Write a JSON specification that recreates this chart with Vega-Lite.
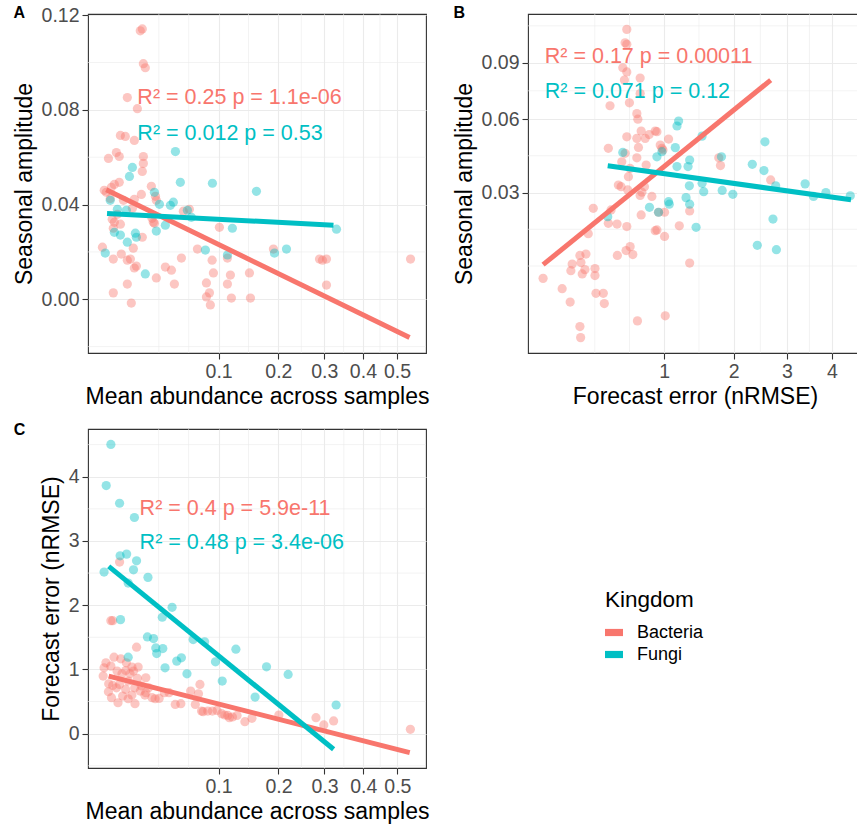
{
"$schema": "https://vega.github.io/schema/vega-lite/v6.json",
"padding": {"left": 12, "top": 4, "right": 0, "bottom": 0},
"background": "white",
"config": {
  "font": "Liberation Sans",
  "view": {"stroke": "#333333", "strokeWidth": 1.1},
  "axis": {"domain": false, "grid": true, "gridColor": "#EBEBEB", "gridWidth": 1.1, "tickColor": "#333333", "tickSize": 6, "tickWidth": 1.1, "labelColor": "#4D4D4D", "labelFontSize": 19.5, "labelFont": "Liberation Sans", "titleFont": "Liberation Sans", "titleFontSize": 23, "titleFontWeight": "normal", "titleColor": "#000000", "labelPadding": 3, "titlePadding": 4.5, "labelFlush": false, "labelOverlap": false},
  "title": {"font": "Liberation Sans", "fontSize": 16, "fontWeight": "bold", "anchor": "start", "frame": "bounds", "color": "#000000", "offset": 0}
},
"datasets": {
  "A_pts": [
{"x":0.0209,"y":0.1134,"Kingdom":"Bacteria"},{"x":0.0222,"y":0.1142,"Kingdom":"Bacteria"},{"x":0.0229,"y":0.0995,"Kingdom":"Bacteria"},{"x":0.0242,"y":0.0978,"Kingdom":"Bacteria"},{"x":0.0135,"y":0.0852,"Kingdom":"Bacteria"},{"x":0.0191,"y":0.0805,"Kingdom":"Bacteria"},{"x":0.0102,"y":0.0692,"Kingdom":"Bacteria"},{"x":0.0125,"y":0.0688,"Kingdom":"Bacteria"},{"x":0.0173,"y":0.0671,"Kingdom":"Bacteria"},{"x":0.0056,"y":0.0595,"Kingdom":"Bacteria"},{"x":0.0085,"y":0.062,"Kingdom":"Bacteria"},{"x":0.0097,"y":0.0603,"Kingdom":"Bacteria"},{"x":0.0229,"y":0.0603,"Kingdom":"Bacteria"},{"x":0.0229,"y":0.0574,"Kingdom":"Bacteria"},{"x":0.0222,"y":0.054,"Kingdom":"Bacteria"},{"x":0.0285,"y":0.0477,"Kingdom":"Bacteria"},{"x":0.0077,"y":0.0485,"Kingdom":"Bacteria"},{"x":0.0097,"y":0.0494,"Kingdom":"Bacteria"},{"x":0.0066,"y":0.0473,"Kingdom":"Bacteria"},{"x":0.0049,"y":0.0452,"Kingdom":"Bacteria"},{"x":0.0216,"y":0.0443,"Kingdom":"Bacteria"},{"x":0.0323,"y":0.0418,"Kingdom":"Bacteria"},{"x":0.0316,"y":0.0435,"Kingdom":"Bacteria"},{"x":0.0173,"y":0.0422,"Kingdom":"Bacteria"},{"x":0.0116,"y":0.0418,"Kingdom":"Bacteria"},{"x":0.0162,"y":0.0384,"Kingdom":"Bacteria"},{"x":0.0069,"y":0.0338,"Kingdom":"Bacteria"},{"x":0.0077,"y":0.0325,"Kingdom":"Bacteria"},{"x":0.0073,"y":0.03,"Kingdom":"Bacteria"},{"x":0.0222,"y":0.0262,"Kingdom":"Bacteria"},{"x":0.03,"y":0.0325,"Kingdom":"Bacteria"},{"x":0.0571,"y":0.0372,"Kingdom":"Bacteria"},{"x":0.1011,"y":0.0304,"Kingdom":"Bacteria"},{"x":0.0038,"y":0.022,"Kingdom":"Bacteria"},{"x":0.0073,"y":0.017,"Kingdom":"Bacteria"},{"x":0.0106,"y":0.0191,"Kingdom":"Bacteria"},{"x":0.0135,"y":0.0165,"Kingdom":"Bacteria"},{"x":0.0151,"y":0.017,"Kingdom":"Bacteria"},{"x":0.0167,"y":0.0216,"Kingdom":"Bacteria"},{"x":0.0173,"y":0.0132,"Kingdom":"Bacteria"},{"x":0.0185,"y":0.014,"Kingdom":"Bacteria"},{"x":0.0398,"y":0.0136,"Kingdom":"Bacteria"},{"x":0.0453,"y":0.0123,"Kingdom":"Bacteria"},{"x":0.0323,"y":0.009,"Kingdom":"Bacteria"},{"x":0.0481,"y":0.0064,"Kingdom":"Bacteria"},{"x":0.0135,"y":0.0064,"Kingdom":"Bacteria"},{"x":0.0073,"y":0.0027,"Kingdom":"Bacteria"},{"x":0.0156,"y":-0.0016,"Kingdom":"Bacteria"},{"x":0.0551,"y":0.0174,"Kingdom":"Bacteria"},{"x":0.0728,"y":0.0212,"Kingdom":"Bacteria"},{"x":0.0838,"y":0.0069,"Kingdom":"Bacteria"},{"x":0.0877,"y":0.0027,"Kingdom":"Bacteria"},{"x":0.0838,"y":0.001,"Kingdom":"Bacteria"},{"x":0.0889,"y":-0.0024,"Kingdom":"Bacteria"},{"x":0.0929,"y":0.0111,"Kingdom":"Bacteria"},{"x":0.1126,"y":0.0064,"Kingdom":"Bacteria"},{"x":0.117,"y":0.0102,"Kingdom":"Bacteria"},{"x":0.1185,"y":0.0005,"Kingdom":"Bacteria"},{"x":0.0912,"y":0.0165,"Kingdom":"Bacteria"},{"x":0.1126,"y":0.0174,"Kingdom":"Bacteria"},{"x":0.1473,"y":0.0111,"Kingdom":"Bacteria"},{"x":0.149,"y":0.0005,"Kingdom":"Bacteria"},{"x":0.1904,"y":0.0212,"Kingdom":"Bacteria"},{"x":0.2887,"y":0.017,"Kingdom":"Bacteria"},{"x":0.2958,"y":0.0165,"Kingdom":"Bacteria"},{"x":0.3054,"y":0.017,"Kingdom":"Bacteria"},{"x":0.3054,"y":0.006,"Kingdom":"Bacteria"},{"x":0.5429,"y":0.017,"Kingdom":"Bacteria"},{"x":0.0043,"y":0.046,"Kingdom":"Bacteria"},{"x":0.0062,"y":0.0426,"Kingdom":"Bacteria"},{"x":0.0089,"y":0.0359,"Kingdom":"Bacteria"},{"x":0.0102,"y":0.0317,"Kingdom":"Bacteria"},{"x":0.029,"y":0.0342,"Kingdom":"Bacteria"},{"x":0.0308,"y":0.0321,"Kingdom":"Bacteria"},{"x":0.0636,"y":0.038,"Kingdom":"Bacteria"},
{"x":0.0491,"y":0.0624,"Kingdom":"Fungi"},{"x":0.0162,"y":0.0557,"Kingdom":"Fungi"},{"x":0.0146,"y":0.0519,"Kingdom":"Fungi"},{"x":0.054,"y":0.0494,"Kingdom":"Fungi"},{"x":0.0916,"y":0.049,"Kingdom":"Fungi"},{"x":0.1593,"y":0.0456,"Kingdom":"Fungi"},{"x":0.0308,"y":0.0452,"Kingdom":"Fungi"},{"x":0.0348,"y":0.0401,"Kingdom":"Fungi"},{"x":0.0471,"y":0.041,"Kingdom":"Fungi"},{"x":0.0443,"y":0.0397,"Kingdom":"Fungi"},{"x":0.0062,"y":0.0418,"Kingdom":"Fungi"},{"x":0.0089,"y":0.038,"Kingdom":"Fungi"},{"x":0.013,"y":0.0376,"Kingdom":"Fungi"},{"x":0.0614,"y":0.0376,"Kingdom":"Fungi"},{"x":0.0658,"y":0.0346,"Kingdom":"Fungi"},{"x":0.0398,"y":0.0313,"Kingdom":"Fungi"},{"x":0.0323,"y":0.0288,"Kingdom":"Fungi"},{"x":0.12,"y":0.03,"Kingdom":"Fungi"},{"x":0.0077,"y":0.0283,"Kingdom":"Fungi"},{"x":0.0102,"y":0.0271,"Kingdom":"Fungi"},{"x":0.0179,"y":0.0279,"Kingdom":"Fungi"},{"x":0.0185,"y":0.0262,"Kingdom":"Fungi"},{"x":0.0135,"y":0.0241,"Kingdom":"Fungi"},{"x":0.0046,"y":0.0195,"Kingdom":"Fungi"},{"x":0.0242,"y":0.0107,"Kingdom":"Fungi"},{"x":0.0825,"y":0.0208,"Kingdom":"Fungi"},{"x":0.1126,"y":0.0187,"Kingdom":"Fungi"},{"x":0.1924,"y":0.0195,"Kingdom":"Fungi"},{"x":0.2162,"y":0.0212,"Kingdom":"Fungi"},{"x":0.3301,"y":0.0296,"Kingdom":"Fungi"}
  ],
  "A_lines": [{"x":0.0049,"y":0.0463,"Kingdom":"Bacteria"},{"x":0.5397,"y":-0.0162,"Kingdom":"Bacteria"},{"x":0.00514,"y":0.0362,"Kingdom":"Fungi"},{"x":0.3226,"y":0.0313,"Kingdom":"Fungi"}],
  "A_text": [{"x":0.0191,"y":0.0849,"label":"R² = 0.25  p = 1.1e-06","Kingdom":"Bacteria"},{"x":0.0191,"y":0.0696,"label":"R² = 0.012  p = 0.53","Kingdom":"Fungi"}],
  "gA_x": [{"x":0.03432},{"x":0.06287},{"x":0.14571},{"x":0.24747},{"x":0.34821},{"x":0.44861}],
  "gA_y": [{"y":-0.02},{"y":0.02},{"y":0.06},{"y":0.10}],
  "B_pts": [
{"x":0.6032,"y":0.1105,"Kingdom":"Bacteria"},{"x":0.5875,"y":0.102,"Kingdom":"Bacteria"},{"x":0.6032,"y":0.101,"Kingdom":"Bacteria"},{"x":0.5666,"y":0.087,"Kingdom":"Bacteria"},{"x":0.6032,"y":0.0846,"Kingdom":"Bacteria"},{"x":0.7332,"y":0.0812,"Kingdom":"Bacteria"},{"x":0.5811,"y":0.0801,"Kingdom":"Bacteria"},{"x":0.4578,"y":0.0665,"Kingdom":"Bacteria"},{"x":0.6276,"y":0.068,"Kingdom":"Bacteria"},{"x":0.7332,"y":0.0728,"Kingdom":"Bacteria"},{"x":0.6998,"y":0.0626,"Kingdom":"Bacteria"},{"x":0.7098,"y":0.0599,"Kingdom":"Bacteria"},{"x":0.7435,"y":0.0544,"Kingdom":"Bacteria"},{"x":0.8951,"y":0.0544,"Kingdom":"Bacteria"},{"x":0.8284,"y":0.0528,"Kingdom":"Bacteria"},{"x":0.7854,"y":0.0511,"Kingdom":"Bacteria"},{"x":0.6998,"y":0.0511,"Kingdom":"Bacteria"},{"x":0.6032,"y":0.0518,"Kingdom":"Bacteria"},{"x":0.7159,"y":0.0472,"Kingdom":"Bacteria"},{"x":0.4442,"y":0.0468,"Kingdom":"Bacteria"},{"x":0.5875,"y":0.0447,"Kingdom":"Bacteria"},{"x":0.5575,"y":0.0413,"Kingdom":"Bacteria"},{"x":0.6998,"y":0.0429,"Kingdom":"Bacteria"},{"x":0.6343,"y":0.0387,"Kingdom":"Bacteria"},{"x":0.6182,"y":0.0356,"Kingdom":"Bacteria"},{"x":0.796,"y":0.04,"Kingdom":"Bacteria"},{"x":0.5276,"y":0.0326,"Kingdom":"Bacteria"},{"x":0.5513,"y":0.032,"Kingdom":"Bacteria"},{"x":0.6125,"y":0.0309,"Kingdom":"Bacteria"},{"x":0.7508,"y":0.0301,"Kingdom":"Bacteria"},{"x":0.778,"y":0.032,"Kingdom":"Bacteria"},{"x":0.858,"y":0.0287,"Kingdom":"Bacteria"},{"x":0.9845,"y":0.0461,"Kingdom":"Bacteria"},{"x":0.3325,"y":0.0249,"Kingdom":"Bacteria"},{"x":0.466,"y":0.0244,"Kingdom":"Bacteria"},{"x":0.4442,"y":0.0205,"Kingdom":"Bacteria"},{"x":0.5163,"y":0.0203,"Kingdom":"Bacteria"},{"x":0.6032,"y":0.0196,"Kingdom":"Bacteria"},{"x":0.7332,"y":0.029,"Kingdom":"Bacteria"},{"x":0.7435,"y":0.0229,"Kingdom":"Bacteria"},{"x":0.8951,"y":0.0185,"Kingdom":"Bacteria"},{"x":0.2989,"y":0.0177,"Kingdom":"Bacteria"},{"x":0.6343,"y":0.0145,"Kingdom":"Bacteria"},{"x":0.5967,"y":0.0136,"Kingdom":"Bacteria"},{"x":0.6603,"y":0.0127,"Kingdom":"Bacteria"},{"x":0.5189,"y":0.0125,"Kingdom":"Bacteria"},{"x":0.284,"y":0.0128,"Kingdom":"Bacteria"},{"x":0.247,"y":0.0125,"Kingdom":"Bacteria"},{"x":0.253,"y":0.011,"Kingdom":"Bacteria"},{"x":0.2033,"y":0.0107,"Kingdom":"Bacteria"},{"x":0.2777,"y":0.0096,"Kingdom":"Bacteria"},{"x":0.3444,"y":0.0098,"Kingdom":"Bacteria"},{"x":0.1963,"y":0.0094,"Kingdom":"Bacteria"},{"x":0.2609,"y":0.0088,"Kingdom":"Bacteria"},{"x":0.3444,"y":0.0085,"Kingdom":"Bacteria"},{"x":0.0769,"y":0.008,"Kingdom":"Bacteria"},{"x":0.1529,"y":0.0063,"Kingdom":"Bacteria"},{"x":0.3514,"y":0.0056,"Kingdom":"Bacteria"},{"x":0.4052,"y":0.0056,"Kingdom":"Bacteria"},{"x":0.1926,"y":0.0044,"Kingdom":"Bacteria"},{"x":0.4128,"y":0.0042,"Kingdom":"Bacteria"},{"x":0.247,"y":0.0018,"Kingdom":"Bacteria"},{"x":0.2512,"y":0.001,"Kingdom":"Bacteria"},{"x":0.7058,"y":0.0023,"Kingdom":"Bacteria"},{"x":1.012,"y":0.0028,"Kingdom":"Bacteria"},{"x":1.0521,"y":0.0508,"Kingdom":"Bacteria"},{"x":0.9527,"y":0.0482,"Kingdom":"Bacteria"},{"x":0.9727,"y":0.0468,"Kingdom":"Bacteria"},{"x":1.756,"y":0.0429,"Kingdom":"Bacteria"},{"x":1.783,"y":0.0398,"Kingdom":"Bacteria"},{"x":2.6723,"y":0.0344,"Kingdom":"Bacteria"},{"x":0.9145,"y":0.0541,"Kingdom":"Bacteria"},{"x":1.0036,"y":0.0237,"Kingdom":"Bacteria"},{"x":1.326,"y":0.0241,"Kingdom":"Bacteria"},{"x":0.9145,"y":0.0187,"Kingdom":"Bacteria"},{"x":1.0036,"y":0.017,"Kingdom":"Bacteria"},{"x":1.1877,"y":0.0198,"Kingdom":"Bacteria"},{"x":1.326,"y":0.0109,"Kingdom":"Bacteria"},{"x":0.9329,"y":0.0237,"Kingdom":"Bacteria"},
{"x":1.1786,"y":0.059,"Kingdom":"Fungi"},{"x":1.1578,"y":0.0567,"Kingdom":"Fungi"},{"x":1.5024,"y":0.0521,"Kingdom":"Fungi"},{"x":2.5619,"y":0.0496,"Kingdom":"Fungi"},{"x":1.1361,"y":0.0471,"Kingdom":"Fungi"},{"x":0.9727,"y":0.0454,"Kingdom":"Fungi"},{"x":1.326,"y":0.042,"Kingdom":"Fungi"},{"x":1.799,"y":0.0433,"Kingdom":"Fungi"},{"x":2.326,"y":0.0403,"Kingdom":"Fungi"},{"x":2.5427,"y":0.0379,"Kingdom":"Fungi"},{"x":1.1578,"y":0.0394,"Kingdom":"Fungi"},{"x":1.304,"y":0.0394,"Kingdom":"Fungi"},{"x":1.3218,"y":0.0323,"Kingdom":"Fungi"},{"x":1.5024,"y":0.0332,"Kingdom":"Fungi"},{"x":1.526,"y":0.0303,"Kingdom":"Fungi"},{"x":1.2769,"y":0.0283,"Kingdom":"Fungi"},{"x":1.8104,"y":0.0307,"Kingdom":"Fungi"},{"x":1.9853,"y":0.0294,"Kingdom":"Fungi"},{"x":2.7712,"y":0.0323,"Kingdom":"Fungi"},{"x":3.386,"y":0.033,"Kingdom":"Fungi"},{"x":3.8573,"y":0.03,"Kingdom":"Fungi"},{"x":4.4504,"y":0.0289,"Kingdom":"Fungi"},{"x":1.0521,"y":0.027,"Kingdom":"Fungi"},{"x":1.0608,"y":0.0262,"Kingdom":"Fungi"},{"x":1.326,"y":0.0262,"Kingdom":"Fungi"},{"x":1.4157,"y":0.0194,"Kingdom":"Fungi"},{"x":2.7176,"y":0.0217,"Kingdom":"Fungi"},{"x":2.4183,"y":0.0148,"Kingdom":"Fungi"},{"x":2.7852,"y":0.0138,"Kingdom":"Fungi"},{"x":3.5736,"y":0.0287,"Kingdom":"Fungi"},{"x":0.5666,"y":0.0451,"Kingdom":"Fungi"},{"x":0.9145,"y":0.0433,"Kingdom":"Fungi"},{"x":0.4394,"y":0.0224,"Kingdom":"Fungi"},{"x":0.8317,"y":0.0252,"Kingdom":"Fungi"},{"x":0.9329,"y":0.0237,"Kingdom":"Fungi"}
  ],
  "B_lines": [{"x":0.0769,"y":0.01057,"Kingdom":"Bacteria"},{"x":2.6723,"y":0.08,"Kingdom":"Bacteria"},{"x":0.4394,"y":0.0397,"Kingdom":"Fungi"},{"x":4.468,"y":0.0276,"Kingdom":"Fungi"}],
  "B_text": [{"x":0.0826,"y":0.0933,"label":"R² = 0.17  p = 0.00011","Kingdom":"Bacteria"},{"x":0.0826,"y":0.0737,"label":"R² = 0.071  p = 0.12","Kingdom":"Fungi"}],
  "gB_x": [{"x":0.34315},{"x":0.62868},{"x":1.45711},{"x":2.47474},{"x":3.48206}],
  "gB_y": [{"y":0.0103},{"y":0.01886},{"y":0.04371},{"y":0.07424},{"y":0.11281}],
  "C_pts": [
{"x":0.00997,"y":2.671,"Kingdom":"Bacteria"},{"x":0.00653,"y":1.759,"Kingdom":"Bacteria"},{"x":0.0072,"y":1.759,"Kingdom":"Bacteria"},{"x":0.01876,"y":1.346,"Kingdom":"Bacteria"},{"x":0.00435,"y":1.025,"Kingdom":"Bacteria"},{"x":0.00653,"y":1.051,"Kingdom":"Bacteria"},{"x":0.00769,"y":1.191,"Kingdom":"Bacteria"},{"x":0.00409,"y":0.896,"Kingdom":"Bacteria"},{"x":0.00579,"y":0.776,"Kingdom":"Bacteria"},{"x":0.00891,"y":0.974,"Kingdom":"Bacteria"},{"x":0.01105,"y":0.932,"Kingdom":"Bacteria"},{"x":0.01282,"y":0.983,"Kingdom":"Bacteria"},{"x":0.01697,"y":0.974,"Kingdom":"Bacteria"},{"x":0.01972,"y":1.036,"Kingdom":"Bacteria"},{"x":0.01608,"y":1.036,"Kingdom":"Bacteria"},{"x":0.01932,"y":0.859,"Kingdom":"Bacteria"},{"x":0.01409,"y":0.818,"Kingdom":"Bacteria"},{"x":0.00997,"y":0.766,"Kingdom":"Bacteria"},{"x":0.00864,"y":0.714,"Kingdom":"Bacteria"},{"x":0.01282,"y":0.688,"Kingdom":"Bacteria"},{"x":0.01135,"y":0.585,"Kingdom":"Bacteria"},{"x":0.01608,"y":0.601,"Kingdom":"Bacteria"},{"x":0.01783,"y":0.466,"Kingdom":"Bacteria"},{"x":0.01409,"y":0.543,"Kingdom":"Bacteria"},{"x":0.02473,"y":0.87,"Kingdom":"Bacteria"},{"x":0.02473,"y":0.637,"Kingdom":"Bacteria"},{"x":0.02409,"y":0.601,"Kingdom":"Bacteria"},{"x":0.0292,"y":0.559,"Kingdom":"Bacteria"},{"x":0.03153,"y":0.543,"Kingdom":"Bacteria"},{"x":0.0347,"y":0.548,"Kingdom":"Bacteria"},{"x":0.04326,"y":0.637,"Kingdom":"Bacteria"},{"x":0.0491,"y":0.455,"Kingdom":"Bacteria"},{"x":0.05465,"y":0.466,"Kingdom":"Bacteria"},{"x":0.06517,"y":0.663,"Kingdom":"Bacteria"},{"x":0.07416,"y":0.621,"Kingdom":"Bacteria"},{"x":0.07594,"y":0.766,"Kingdom":"Bacteria"},{"x":0.07045,"y":0.455,"Kingdom":"Bacteria"},{"x":0.07979,"y":0.342,"Kingdom":"Bacteria"},{"x":0.08563,"y":0.352,"Kingdom":"Bacteria"},{"x":0.09167,"y":0.352,"Kingdom":"Bacteria"},{"x":0.09791,"y":0.362,"Kingdom":"Bacteria"},{"x":0.10436,"y":0.311,"Kingdom":"Bacteria"},{"x":0.10874,"y":0.29,"Kingdom":"Bacteria"},{"x":0.11553,"y":0.248,"Kingdom":"Bacteria"},{"x":0.07785,"y":0.352,"Kingdom":"Bacteria"},{"x":0.0057,"y":0.652,"Kingdom":"Bacteria"},{"x":0.0072,"y":0.75,"Kingdom":"Bacteria"},{"x":0.11319,"y":0.284,"Kingdom":"Bacteria"},{"x":0.12726,"y":0.284,"Kingdom":"Bacteria"},{"x":0.12013,"y":0.259,"Kingdom":"Bacteria"},{"x":0.13972,"y":0.186,"Kingdom":"Bacteria"},{"x":0.15148,"y":0.238,"Kingdom":"Bacteria"},{"x":0.20075,"y":0.29,"Kingdom":"Bacteria"},{"x":0.28009,"y":0.248,"Kingdom":"Bacteria"},{"x":0.29841,"y":0.135,"Kingdom":"Bacteria"},{"x":0.32236,"y":0.197,"Kingdom":"Bacteria"},{"x":0.54112,"y":0.067,"Kingdom":"Bacteria"},{"x":0.0049,"y":1.102,"Kingdom":"Bacteria"},{"x":0.02164,"y":0.745,"Kingdom":"Bacteria"},{"x":0.0267,"y":0.714,"Kingdom":"Bacteria"},{"x":0.03914,"y":0.637,"Kingdom":"Bacteria"},{"x":0.01767,"y":0.714,"Kingdom":"Bacteria"},{"x":0.0105,"y":1.165,"Kingdom":"Bacteria"},{"x":0.01314,"y":1.102,"Kingdom":"Bacteria"},{"x":0.01507,"y":0.932,"Kingdom":"Bacteria"},{"x":0.02105,"y":0.663,"Kingdom":"Bacteria"},{"x":0.00675,"y":0.559,"Kingdom":"Bacteria"},{"x":0.00929,"y":0.481,"Kingdom":"Bacteria"},
{"x":0.00653,"y":4.503,"Kingdom":"Fungi"},{"x":0.00499,"y":3.862,"Kingdom":"Fungi"},{"x":0.00997,"y":3.587,"Kingdom":"Fungi"},{"x":0.0175,"y":3.365,"Kingdom":"Fungi"},{"x":0.01021,"y":2.769,"Kingdom":"Fungi"},{"x":0.01329,"y":2.795,"Kingdom":"Fungi"},{"x":0.01876,"y":2.691,"Kingdom":"Fungi"},{"x":0.01697,"y":2.551,"Kingdom":"Fungi"},{"x":0.00435,"y":2.516,"Kingdom":"Fungi"},{"x":0.01409,"y":2.345,"Kingdom":"Fungi"},{"x":0.02622,"y":2.433,"Kingdom":"Fungi"},{"x":0.04609,"y":1.967,"Kingdom":"Fungi"},{"x":0.03731,"y":1.812,"Kingdom":"Fungi"},{"x":0.01038,"y":1.775,"Kingdom":"Fungi"},{"x":0.06799,"y":1.464,"Kingdom":"Fungi"},{"x":0.08163,"y":1.429,"Kingdom":"Fungi"},{"x":0.02583,"y":1.506,"Kingdom":"Fungi"},{"x":0.03031,"y":1.48,"Kingdom":"Fungi"},{"x":0.03204,"y":1.335,"Kingdom":"Fungi"},{"x":0.03277,"y":1.247,"Kingdom":"Fungi"},{"x":0.03779,"y":1.325,"Kingdom":"Fungi"},{"x":0.01409,"y":1.191,"Kingdom":"Fungi"},{"x":0.03971,"y":1.025,"Kingdom":"Fungi"},{"x":0.05055,"y":1.129,"Kingdom":"Fungi"},{"x":0.05522,"y":1.18,"Kingdom":"Fungi"},{"x":0.06109,"y":0.932,"Kingdom":"Fungi"},{"x":0.09577,"y":1.118,"Kingdom":"Fungi"},{"x":0.10516,"y":0.818,"Kingdom":"Fungi"},{"x":0.1254,"y":1.315,"Kingdom":"Fungi"},{"x":0.17731,"y":1.04,"Kingdom":"Fungi"},{"x":0.21935,"y":0.921,"Kingdom":"Fungi"},{"x":0.15691,"y":0.57,"Kingdom":"Fungi"},{"x":0.32863,"y":0.446,"Kingdom":"Fungi"}
  ],
  "C_lines": [{"x":0.00579,"y":0.896,"Kingdom":"Bacteria"},{"x":0.539,"y":-0.295,"Kingdom":"Bacteria"},{"x":0.00579,"y":2.604,"Kingdom":"Fungi"},{"x":0.32236,"y":-0.244,"Kingdom":"Fungi"}],
  "C_text": [{"x":0.02064,"y":3.498,"label":"R² = 0.4  p = 5.9e-11","Kingdom":"Bacteria"},{"x":0.02064,"y":2.966,"label":"R² = 0.48  p = 3.4e-06","Kingdom":"Fungi"}],
  "gC_y": [{"y":-0.5},{"y":0.5},{"y":1.5},{"y":2.5},{"y":3.5},{"y":4.5}]
},
"spacing": 12,
"resolve": {"scale": {"color": "independent"}},
"vconcat": [
 {
  "hconcat": [
   {
    "width": 338, "height": 339,
    "title": {"text": "A", "dy": 20},
    "layer": [
      {"data": {"name": "gA_x"}, "mark": {"type": "rule", "color": "#EBEBEB", "strokeWidth": 0.6}, "encoding": {"x": {"field": "x", "type": "quantitative"}}},
      {"data": {"name": "gA_y"}, "mark": {"type": "rule", "color": "#EBEBEB", "strokeWidth": 0.6}, "encoding": {"y": {"field": "y", "type": "quantitative"}}},
      {"data": {"name": "A_pts"}, "mark": {"type": "circle", "size": 85, "opacity": 0.42},
       "encoding": {
         "x": {"field": "x", "type": "quantitative", "scale": {"type": "sqrt", "domain": [0.0009, 0.594], "nice": false, "zero": false}, "axis": {"title": "Mean abundance across samples", "values": [0.1, 0.2, 0.3, 0.4, 0.5], "format": ".1f"}},
         "y": {"field": "y", "type": "quantitative", "scale": {"domain": [-0.0227, 0.1205], "nice": false, "zero": false}, "axis": {"title": "Seasonal amplitude", "values": [0, 0.04, 0.08, 0.12], "format": ".2f"}},
         "color": {"field": "Kingdom", "type": "nominal", "scale": {"domain": ["Bacteria", "Fungi"], "range": ["#F8766D", "#00BFC4"]}, "legend": null}
       }},
      {"data": {"name": "A_lines"}, "mark": {"type": "line", "strokeWidth": 5, "strokeCap": "butt"},
       "encoding": {"x": {"field": "x", "type": "quantitative"}, "y": {"field": "y", "type": "quantitative"}, "color": {"field": "Kingdom", "type": "nominal", "legend": null}}},
      {"data": {"name": "A_text"}, "mark": {"type": "text", "align": "left", "baseline": "middle", "fontSize": 21.5, "font": "Liberation Sans"},
       "encoding": {"x": {"field": "x", "type": "quantitative"}, "y": {"field": "y", "type": "quantitative"}, "text": {"field": "label"}, "color": {"field": "Kingdom", "type": "nominal", "legend": null}}}
    ]
   },
   {
    "width": 334, "height": 339,
    "title": {"text": "B", "dy": 11},
    "layer": [
      {"data": {"name": "gB_x"}, "mark": {"type": "rule", "color": "#EBEBEB", "strokeWidth": 0.6}, "encoding": {"x": {"field": "x", "type": "quantitative"}}},
      {"data": {"name": "gB_y"}, "mark": {"type": "rule", "color": "#EBEBEB", "strokeWidth": 0.6}, "encoding": {"y": {"field": "y", "type": "quantitative"}}},
      {"data": {"name": "B_pts"}, "mark": {"type": "circle", "size": 85, "opacity": 0.42},
       "encoding": {
         "x": {"field": "x", "type": "quantitative", "scale": {"type": "sqrt", "domain": [0.0351, 4.75], "nice": false, "zero": false}, "axis": {"title": "Forecast error (nRMSE)", "values": [1, 2, 3, 4], "format": "d"}},
         "y": {"field": "y", "type": "quantitative", "scale": {"type": "sqrt", "domain": [0.000276, 0.1207], "nice": false, "zero": false}, "axis": {"title": "Seasonal amplitude", "values": [0.03, 0.06, 0.09], "format": ".2f"}},
         "color": {"field": "Kingdom", "type": "nominal", "scale": {"domain": ["Bacteria", "Fungi"], "range": ["#F8766D", "#00BFC4"]}, "legend": null}
       }},
      {"data": {"name": "B_lines"}, "mark": {"type": "line", "strokeWidth": 5, "strokeCap": "butt"},
       "encoding": {"x": {"field": "x", "type": "quantitative"}, "y": {"field": "y", "type": "quantitative"}, "color": {"field": "Kingdom", "type": "nominal", "legend": null}}},
      {"data": {"name": "B_text"}, "mark": {"type": "text", "align": "left", "baseline": "middle", "fontSize": 21.5, "font": "Liberation Sans"},
       "encoding": {"x": {"field": "x", "type": "quantitative"}, "y": {"field": "y", "type": "quantitative"}, "text": {"field": "label"}, "color": {"field": "Kingdom", "type": "nominal", "legend": null}}}
    ]
   }
  ],
  "spacing": 22,
  "resolve": {"scale": {"color": "independent"}}
 },
 {
  "width": 338, "height": 339,
  "title": {"text": "C", "dy": 13, "dx": -27},
  "layer": [
    {"data": {"name": "gA_x"}, "mark": {"type": "rule", "color": "#EBEBEB", "strokeWidth": 0.6}, "encoding": {"x": {"field": "x", "type": "quantitative"}}},
    {"data": {"name": "gC_y"}, "mark": {"type": "rule", "color": "#EBEBEB", "strokeWidth": 0.6}, "encoding": {"y": {"field": "y", "type": "quantitative"}}},
    {"data": {"name": "C_pts"}, "mark": {"type": "circle", "size": 85, "opacity": 0.42},
     "encoding": {
       "x": {"field": "x", "type": "quantitative", "scale": {"type": "sqrt", "domain": [0.00095, 0.5925], "nice": false, "zero": false}, "axis": {"title": "Mean abundance across samples", "values": [0.1, 0.2, 0.3, 0.4, 0.5], "format": ".1f"}},
       "y": {"field": "y", "type": "quantitative", "scale": {"domain": [-0.535, 4.743], "nice": false, "zero": false}, "axis": {"title": "Forecast error (nRMSE)", "values": [0, 1, 2, 3, 4], "format": "d"}},
       "color": {"field": "Kingdom", "type": "nominal", "scale": {"domain": ["Bacteria", "Fungi"], "range": ["#F8766D", "#00BFC4"]},
         "legend": {"orient": "none", "legendX": 517, "legendY": 160, "title": "Kingdom", "titleFontSize": 22.5, "titleFontWeight": "normal", "titleColor": "#000000", "titleFont": "Liberation Sans", "labelFontSize": 18, "labelColor": "#000000", "labelFont": "Liberation Sans", "symbolType": "M-1,-0.4L1,-0.4L1,0.4L-1,0.4Z", "symbolSize": 324, "symbolOpacity": 1, "symbolStrokeWidth": 0, "rowPadding": 4, "titlePadding": 12, "labelOffset": 14}}
     }},
    {"data": {"name": "C_lines"}, "mark": {"type": "line", "strokeWidth": 5, "strokeCap": "butt"},
     "encoding": {"x": {"field": "x", "type": "quantitative"}, "y": {"field": "y", "type": "quantitative"}, "color": {"field": "Kingdom", "type": "nominal"}}},
    {"data": {"name": "C_text"}, "mark": {"type": "text", "align": "left", "baseline": "middle", "fontSize": 21.5, "font": "Liberation Sans"},
     "encoding": {"x": {"field": "x", "type": "quantitative"}, "y": {"field": "y", "type": "quantitative"}, "text": {"field": "label"}, "color": {"field": "Kingdom", "type": "nominal"}}}
  ]
 }
]
}
